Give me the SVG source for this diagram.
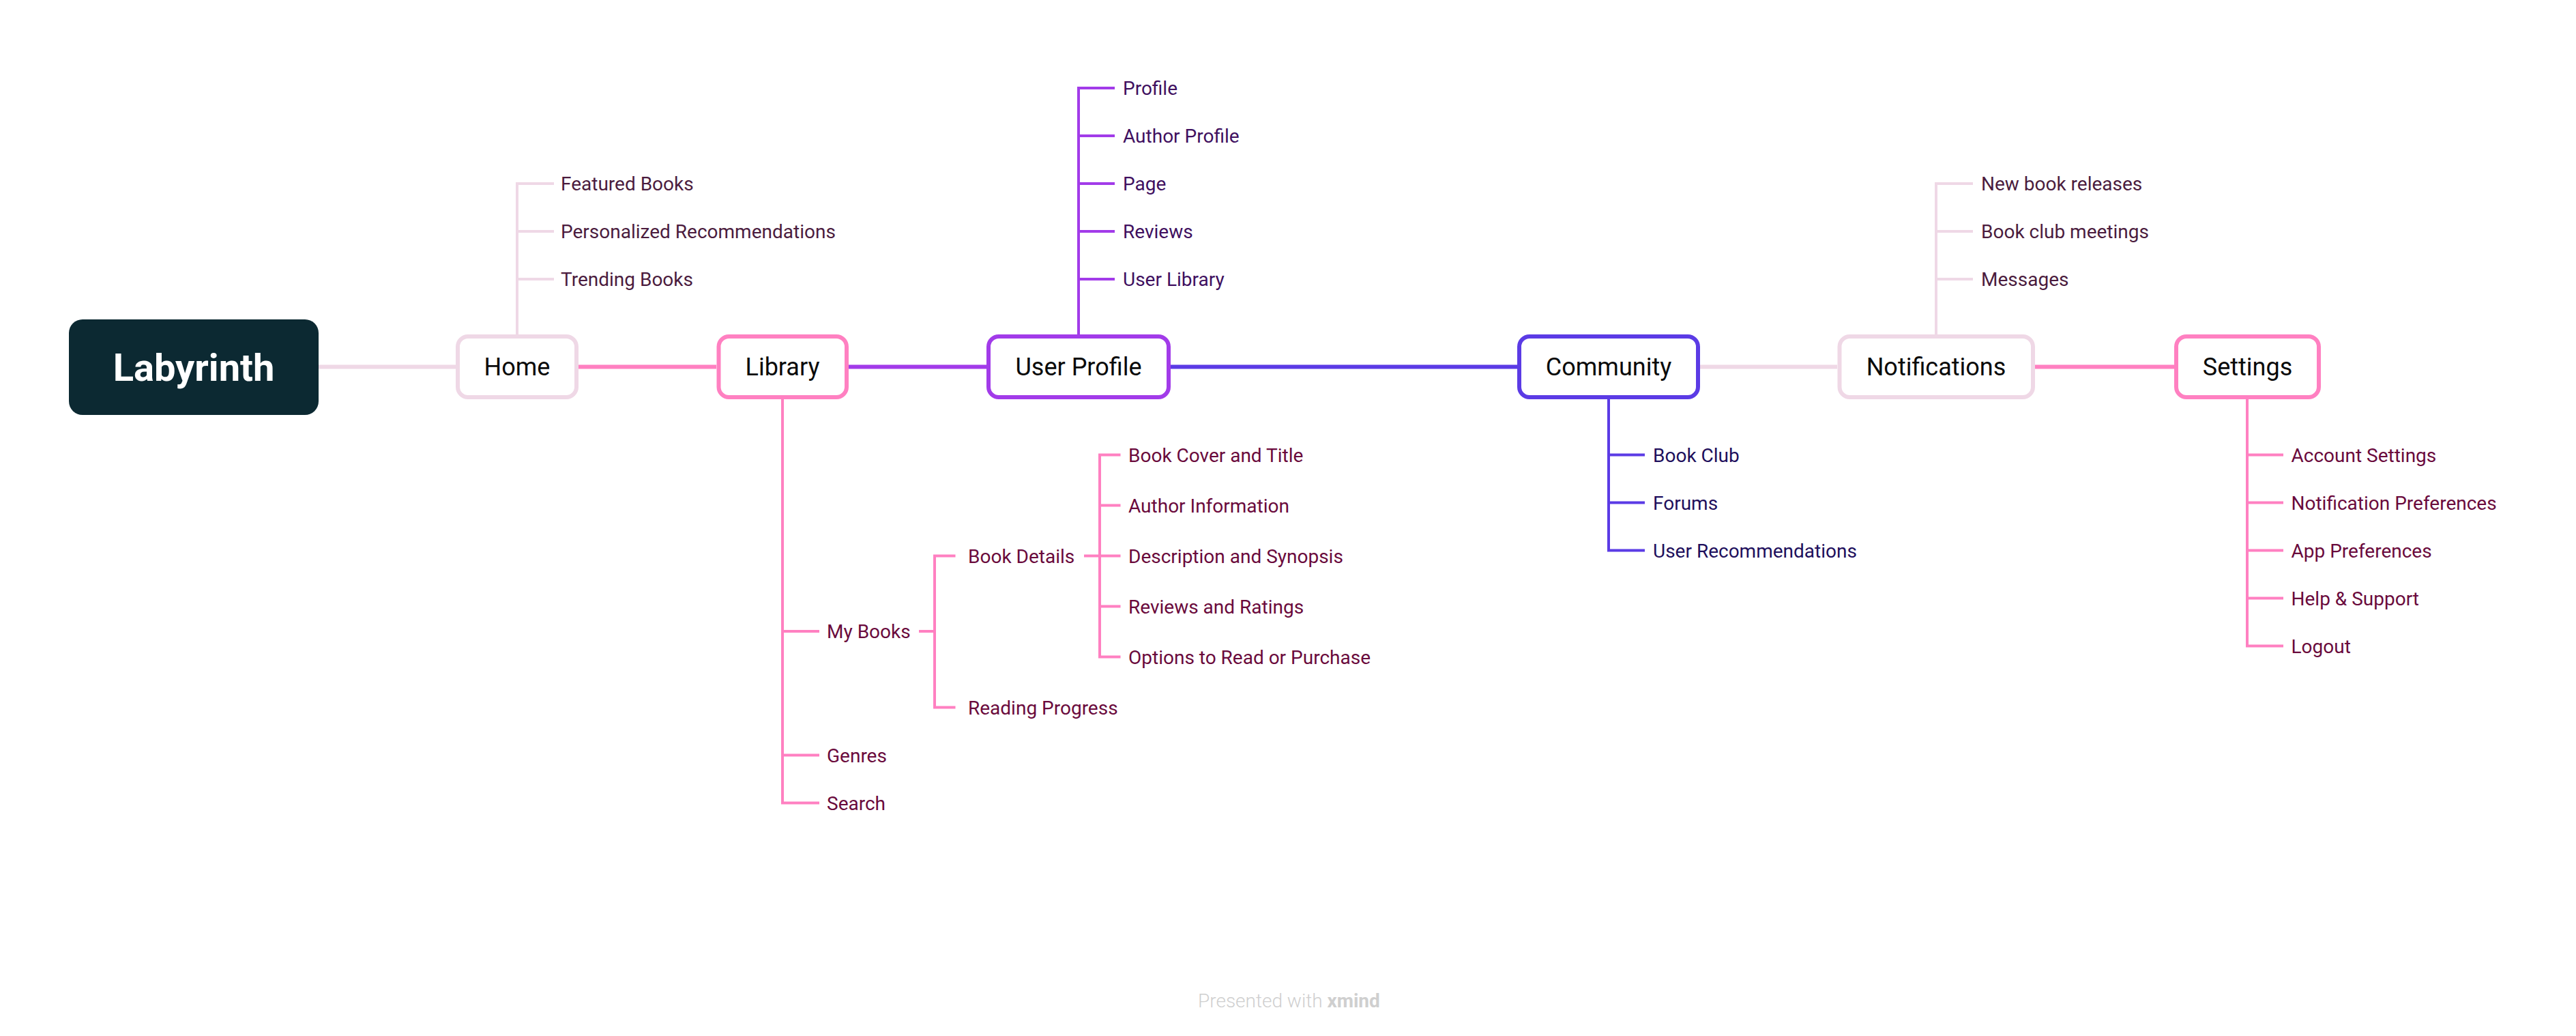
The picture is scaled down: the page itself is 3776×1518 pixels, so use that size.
<svg xmlns="http://www.w3.org/2000/svg" width="3776" height="1518" viewBox="0 0 3776 1518">
<style>
  .bg{fill:#ffffff}
  .topic{fill:#ffffff;stroke-width:6}
  .ttext{font-family:Roboto,"Liberation Sans",sans-serif;font-size:36px;font-weight:400;fill:#0A0A0A;text-anchor:middle}
  .sub{font-family:Roboto,"Liberation Sans",sans-serif;font-size:28px;font-weight:400}
  .main{fill:none;stroke-width:6}
  .br{fill:none;stroke-width:4;stroke-linejoin:miter}
  .lp{stroke:#EFD8E6}
  .pk{stroke:#FF80C1}
  .pu{stroke:#A23BE9}
  .in{stroke:#5B3BE5}
  .c-home{fill:#4B1C3E}
  .c-up{fill:#40105F}
  .c-com{fill:#1E0F5C}
  .c-lib{fill:#6A0A3C}
</style>
<rect class="bg" x="0" y="0" width="3776" height="1518"/>

<g id="connectors">
  <line class="main lp" x1="467" y1="537.5" x2="668" y2="537.5"/>
  <line class="main pk" x1="848" y1="537.5" x2="1050" y2="537.5"/>
  <line class="main pu" x1="1244" y1="537.5" x2="1446" y2="537.5"/>
  <line class="main in" x1="1716" y1="537.5" x2="2224" y2="537.5"/>
  <line class="main lp" x1="2492" y1="537.5" x2="2693" y2="537.5"/>
  <line class="main pk" x1="2983" y1="537.5" x2="3187" y2="537.5"/>

  <!-- Home children -->
  <path class="br lp" d="M758,490 V269 H812 M758,339 H812 M758,409 H812"/>
  <!-- User Profile children -->
  <path class="br pu" d="M1581,490 V129 H1634 M1581,199 H1634 M1581,269 H1634 M1581,339 H1634 M1581,409 H1634"/>
  <!-- Library children -->
  <path class="br pk" d="M1147,585 V1176.5 H1201 M1147,925 H1201 M1147,1106.5 H1201"/>
  <!-- My Books children -->
  <path class="br pk" d="M1347,925 H1370 M1400.5,814.5 H1370 V1036.5 H1400.5"/>
  <!-- Book Details children -->
  <path class="br pk" d="M1589,814.5 H1642.5 M1642.5,666.5 H1612 V962.5 H1642.5 M1612,740.5 H1642.5 M1612,888.5 H1642.5"/>
  <!-- Community children -->
  <path class="br in" d="M2358,585 V806.5 H2411 M2358,666.5 H2411 M2358,736.5 H2411"/>
  <!-- Notifications children -->
  <path class="br lp" d="M2838,490 V269 H2892 M2838,339 H2892 M2838,409 H2892"/>
  <!-- Settings children -->
  <path class="br pk" d="M3294,585 V946.5 H3347 M3294,666.5 H3347 M3294,736.5 H3347 M3294,806.5 H3347 M3294,876.5 H3347"/>
</g>

<g id="root">
  <rect x="101" y="468" width="366" height="140" rx="20" fill="#0C2932"/>
  <text x="284" y="558" font-family="Roboto,'Liberation Sans',sans-serif" font-size="56" font-weight="700" fill="#ffffff" text-anchor="middle">Labyrinth</text>
</g>

<g id="home">
  <rect class="topic lp" x="671" y="493" width="174" height="89" rx="15"/>
  <text class="ttext" x="758" y="549.5">Home</text>
</g>
<g id="library">
  <rect class="topic pk" x="1053.5" y="493" width="187.5" height="89" rx="15"/>
  <text class="ttext" x="1147" y="549.5">Library</text>
</g>
<g id="user-profile">
  <rect class="topic pu" x="1449" y="493" width="264" height="89" rx="15"/>
  <text class="ttext" x="1581" y="549.5">User Profile</text>
</g>
<g id="community">
  <rect class="topic in" x="2227" y="493" width="262" height="89" rx="15"/>
  <text class="ttext" x="2358" y="549.5">Community</text>
</g>
<g id="notifications">
  <rect class="topic lp" x="2696.5" y="493" width="283.5" height="89" rx="15"/>
  <text class="ttext" x="2838" y="549.5">Notifications</text>
</g>
<g id="settings">
  <rect class="topic pk" x="3190" y="493" width="209" height="89" rx="15"/>
  <text class="ttext" x="3294.5" y="549.5">Settings</text>
</g>

<g id="home-children" class="sub c-home">
  <text id="featured-books" x="822" y="279">Featured Books</text>
  <text id="personalized-recommendations" x="822" y="349">Personalized Recommendations</text>
  <text id="trending-books" x="822" y="419">Trending Books</text>
</g>

<g id="user-profile-children" class="sub c-up">
  <text id="profile" x="1646" y="139">Profile</text>
  <text id="author-profile" x="1646" y="209">Author Profile</text>
  <text id="page" x="1646" y="279">Page</text>
  <text id="reviews" x="1646" y="349">Reviews</text>
  <text id="user-library" x="1646" y="419">User Library</text>
</g>

<g id="library-children" class="sub c-lib">
  <text id="my-books" x="1212" y="935">My Books</text>
  <text id="genres" x="1212" y="1116.5">Genres</text>
  <text id="search" x="1212" y="1186.5">Search</text>
  <text id="book-details" x="1419" y="824.5">Book Details</text>
  <text id="reading-progress" x="1419" y="1046.5">Reading Progress</text>
  <text id="book-cover" x="1654" y="676.5">Book Cover and Title</text>
  <text id="author-information" x="1654" y="750.5">Author Information</text>
  <text id="description" x="1654" y="824.5">Description and Synopsis</text>
  <text id="reviews-ratings" x="1654" y="898.5">Reviews and Ratings</text>
  <text id="options" x="1654" y="972.5">Options to Read or Purchase</text>
</g>

<g id="community-children" class="sub c-com">
  <text id="book-club" x="2423" y="676.5">Book Club</text>
  <text id="forums" x="2423" y="746.5">Forums</text>
  <text id="user-recommendations" x="2423" y="816.5">User Recommendations</text>
</g>

<g id="notifications-children" class="sub c-home">
  <text id="new-book-releases" x="2904" y="279">New book releases</text>
  <text id="book-club-meetings" x="2904" y="349">Book club meetings</text>
  <text id="messages" x="2904" y="419">Messages</text>
</g>

<g id="settings-children" class="sub c-lib">
  <text id="account-settings" x="3358.5" y="676.5">Account Settings</text>
  <text id="notification-preferences" x="3358.5" y="746.5">Notification Preferences</text>
  <text id="app-preferences" x="3358.5" y="816.5">App Preferences</text>
  <text id="help-support" x="3358.5" y="886.5">Help &amp; Support</text>
  <text id="logout" x="3358.5" y="956.5">Logout</text>
</g>

<text x="1756" y="1476" font-family="Roboto,'Liberation Sans',sans-serif" font-size="28" font-weight="300" fill="#CFCFCF">Presented with <tspan font-weight="700">xmind</tspan></text>
</svg>
